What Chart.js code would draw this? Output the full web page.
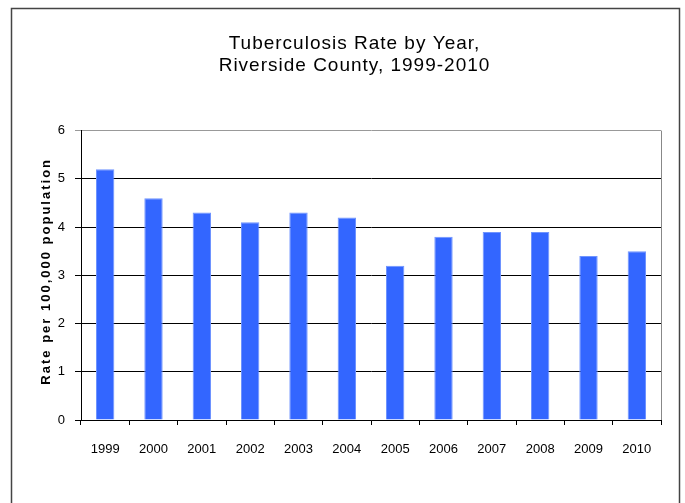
<!DOCTYPE html>
<html>
<head>
<meta charset="utf-8">
<script src="https://cdn.jsdelivr.net/npm/chart.js@4/dist/chart.umd.min.js"></script>
<style>
  html, body { margin: 0; padding: 0; background: #fff; }
  #wrap { width: 685px; height: 503px; }
</style>
</head>
<body>
<div id="wrap"><canvas id="myChart" width="685" height="503"></canvas></div>
<script>
var years = ['1999', '2000', '2001', '2002', '2003', '2004', '2005', '2006', '2007', '2008', '2009', '2010'];
var rates = [5.2, 4.6, 4.3, 4.1, 4.3, 4.2, 3.2, 3.8, 3.9, 3.9, 3.4, 3.5];
var yTicks = [0, 1, 2, 3, 4, 5, 6];

// frame around the whole picture and the right edge of the plot
var framePlugin = {
  id: 'frame',
  afterDraw: function (chart) {
    var c = chart.ctx, a = chart.chartArea;
    c.save();
    c.strokeStyle = '#444';
    c.lineWidth = 1.5;
    c.strokeRect(11.5, 8.5, 668, 520);
    c.strokeStyle = '#888';
    c.lineWidth = 1;
    c.beginPath();
    c.moveTo(Math.round(a.right) + 0.5, a.top);
    c.lineTo(Math.round(a.right) + 0.5, a.bottom);
    c.stroke();
    c.restore();
  }
};

// wrap a draw method so its text is drawn with letter spacing and a small shift
function spaced(fn, px, dx, dy) {
  return function () {
    var c = this.ctx;
    c.save();
    c.translate(dx, dy);
    c.letterSpacing = px;
    fn.apply(this, arguments);
    c.restore();
  };
}

var ctx = document.getElementById('myChart').getContext('2d');
var chart = new Chart(ctx, {
  type: 'bar',
  data: {
    labels: years,
    datasets: [{
      data: rates,
      backgroundColor: '#3366ff',
      borderColor: '#6f94ff',
      borderWidth: { left: 1, right: 1, top: 1, bottom: 0 },
      barPercentage: 0.38,
      categoryPercentage: 1.0
    }]
  },
  options: {
    responsive: false,
    animation: false,
    layout: {
      padding: { left: 30, right: 24, top: 0, bottom: 0 }
    },
    plugins: {
      legend: { display: false },
      tooltip: { enabled: false },
      title: {
        display: true,
        text: ['Tuberculosis Rate by Year,', 'Riverside County, 1999-2010'],
        color: '#000',
        font: { family: 'Liberation Sans', size: 19, weight: 'normal', lineHeight: 1.2 },
        padding: { top: 30, bottom: 55 }
      }
    },
    scales: {
      x: {
        grid: {
          offset: true,
          drawOnChartArea: false,
          tickLength: 5,
          color: '#000'
        },
        border: { color: '#000', width: 1 },
        ticks: {
          color: '#000',
          padding: 17,
          maxRotation: 0,
          font: { family: 'Liberation Sans', size: 13 }
        },
        afterFit: function (s) { s.height = 83; }
      },
      y: {
        min: 0,
        max: 6,
        afterBuildTicks: function (s) {
          s.ticks = yTicks.map(function (v) { return { value: v }; });
        },
        grid: {
          tickLength: 6,
          color: function (c) { return c.tick && c.tick.value === 6 ? '#999' : '#000'; }
        },
        border: { color: '#000', width: 1 },
        ticks: {
          color: '#000',
          padding: 10,
          font: { family: 'Liberation Sans', size: 13 }
        },
        title: {
          display: true,
          text: 'Rate per 100,000 population',
          color: '#000',
          font: { family: 'Liberation Sans', size: 13, weight: 'bold' },
          padding: { top: 9, bottom: 0 }
        },
        afterFit: function (s) { s.width = 51; }
      }
    }
  },
  plugins: [framePlugin]
});

chart.titleBlock.draw = spaced(chart.titleBlock.draw, '1px', 9, 2);
chart.scales.y.drawTitle = spaced(chart.scales.y.drawTitle, '2px', 0, -4);
chart.draw();
</script>
</body>
</html>
